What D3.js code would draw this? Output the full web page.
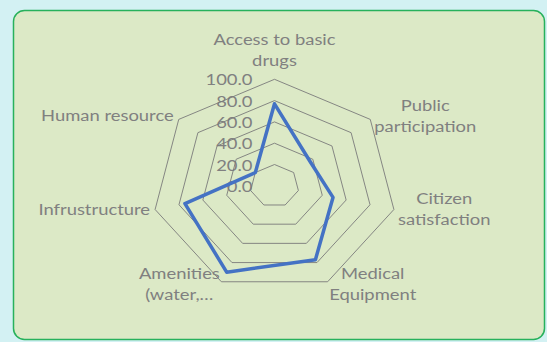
<!DOCTYPE html>
<html>
<head>
<meta charset="utf-8">
<script src="https://cdn.jsdelivr.net/npm/d3@7"></script>
<style>
  html, body { margin: 0; padding: 0; background: #d3f1f3; }
  svg { display: block; }
</style>
</head>
<body>
<svg id="chart" width="547" height="342"></svg>
<script>
// Radar chart of service-delivery scores
const categories = [
  "Access to basic\ndrugs",
  "Public\nparticipation",
  "Citizen\nsatisfaction",
  "Medical\nEquipment",
  "Amenities\n(water,…",
  "Infrustructure",
  "Human resource"
];
const scores = [77, 37, 49, 77, 90, 75, 20];
const tickValues = [0, 20, 40, 60, 80, 100];
const tickLabels = ["0.0", "20.0", "40.0", "60.0", "80.0", "100.0"];

const svg = d3.select("#chart");
const W = 547, H = 342;

// panel
svg.append("rect").attr("width", W).attr("height", H).attr("fill", "#d3f1f3");
svg.append("rect")
  .attr("x", 13.5).attr("y", 10.5).attr("width", 531).attr("height", 329)
  .attr("rx", 11).attr("ry", 11)
  .attr("fill", "#dce9c6").attr("stroke", "#27b15c").attr("stroke-width", 1.5);

const cx = 274.5, cy = 185.8;
const sx = 1.15;           // horizontal stretch of the plot
const r = d3.scaleLinear().domain([0, 100]).range([0, 106.5]);
const n = categories.length;
const angle = d3.scaleLinear().domain([0, n]).range([0, 2 * Math.PI]);

function pt(i, v) {
  const a = angle(i);
  return [cx + Math.sin(a) * r(v) * sx, cy - Math.cos(a) * r(v)];
}

const font = "Lato, 'Open Sans', sans-serif";
const textColor = "#808080";
const fs = 16;

// tick labels along the vertical axis
svg.append("g").selectAll("text")
  .data(tickValues)
  .join("text")
  .attr("transform", d => `translate(${cx - 22},${cy - r(d)}) scale(${sx},1)`)
  .attr("text-anchor", "end")
  .attr("dominant-baseline", "central")
  .attr("font-family", font).attr("font-size", fs)
  .attr("fill", textColor)
  .text((d, i) => tickLabels[i]);

// grid rings
const ring = d3.line();
svg.append("g").selectAll("path")
  .data(tickValues.filter(v => v > 0))
  .join("path")
  .attr("d", v => ring(d3.range(n).map(i => pt(i, v))) + "Z")
  .attr("fill", "none")
  .attr("stroke", "#7a7a7a")
  .attr("stroke-width", 0.9);

// category labels: each label is a block of lines centred on one another,
// placed just outside the outer ring vertex
const lineGap = 21;
const labels = svg.append("g");
categories.forEach((c, i) => {
  const lines = c.split("\n");
  const [vx, vy] = pt(i, 100);
  const a = angle(i);
  const s = Math.sin(a), co = Math.cos(a);
  const texts = lines.map(ln => labels.append("text")
    .attr("text-anchor", "middle")
    .attr("dominant-baseline", "central")
    .attr("font-family", font).attr("font-size", fs)
    .attr("fill", textColor)
    .text(ln));
  const blockW = d3.max(texts, t => t.node().getComputedTextLength()) * sx;
  let bx, yc;
  const lower = co < -0.5;
  if (Math.abs(s) < 0.01) {
    bx = vx; yc = vy - 19 - (lines.length - 1) * lineGap / 2;
  } else if (s > 0) {
    bx = vx + (lower ? 1.5 : 4) + blockW / 2; yc = vy - 4 * co - 1.5;
  } else {
    bx = vx - (lower ? 1.5 : 5) - blockW / 2; yc = vy - 4 * co - 1.5;
  }
  texts.forEach((t, k) => {
    const y = yc + (k - (lines.length - 1) / 2) * lineGap;
    t.attr("transform", `translate(${bx},${y}) scale(${sx},1)`);
  });
});

// series
svg.append("path")
  .attr("d", d3.line()(scores.map((v, i) => pt(i, v))) + "Z")
  .attr("fill", "none")
  .attr("stroke", "#4472c4")
  .attr("stroke-width", 3.5)
  .attr("stroke-linejoin", "round");
</script>
</body>
</html>
